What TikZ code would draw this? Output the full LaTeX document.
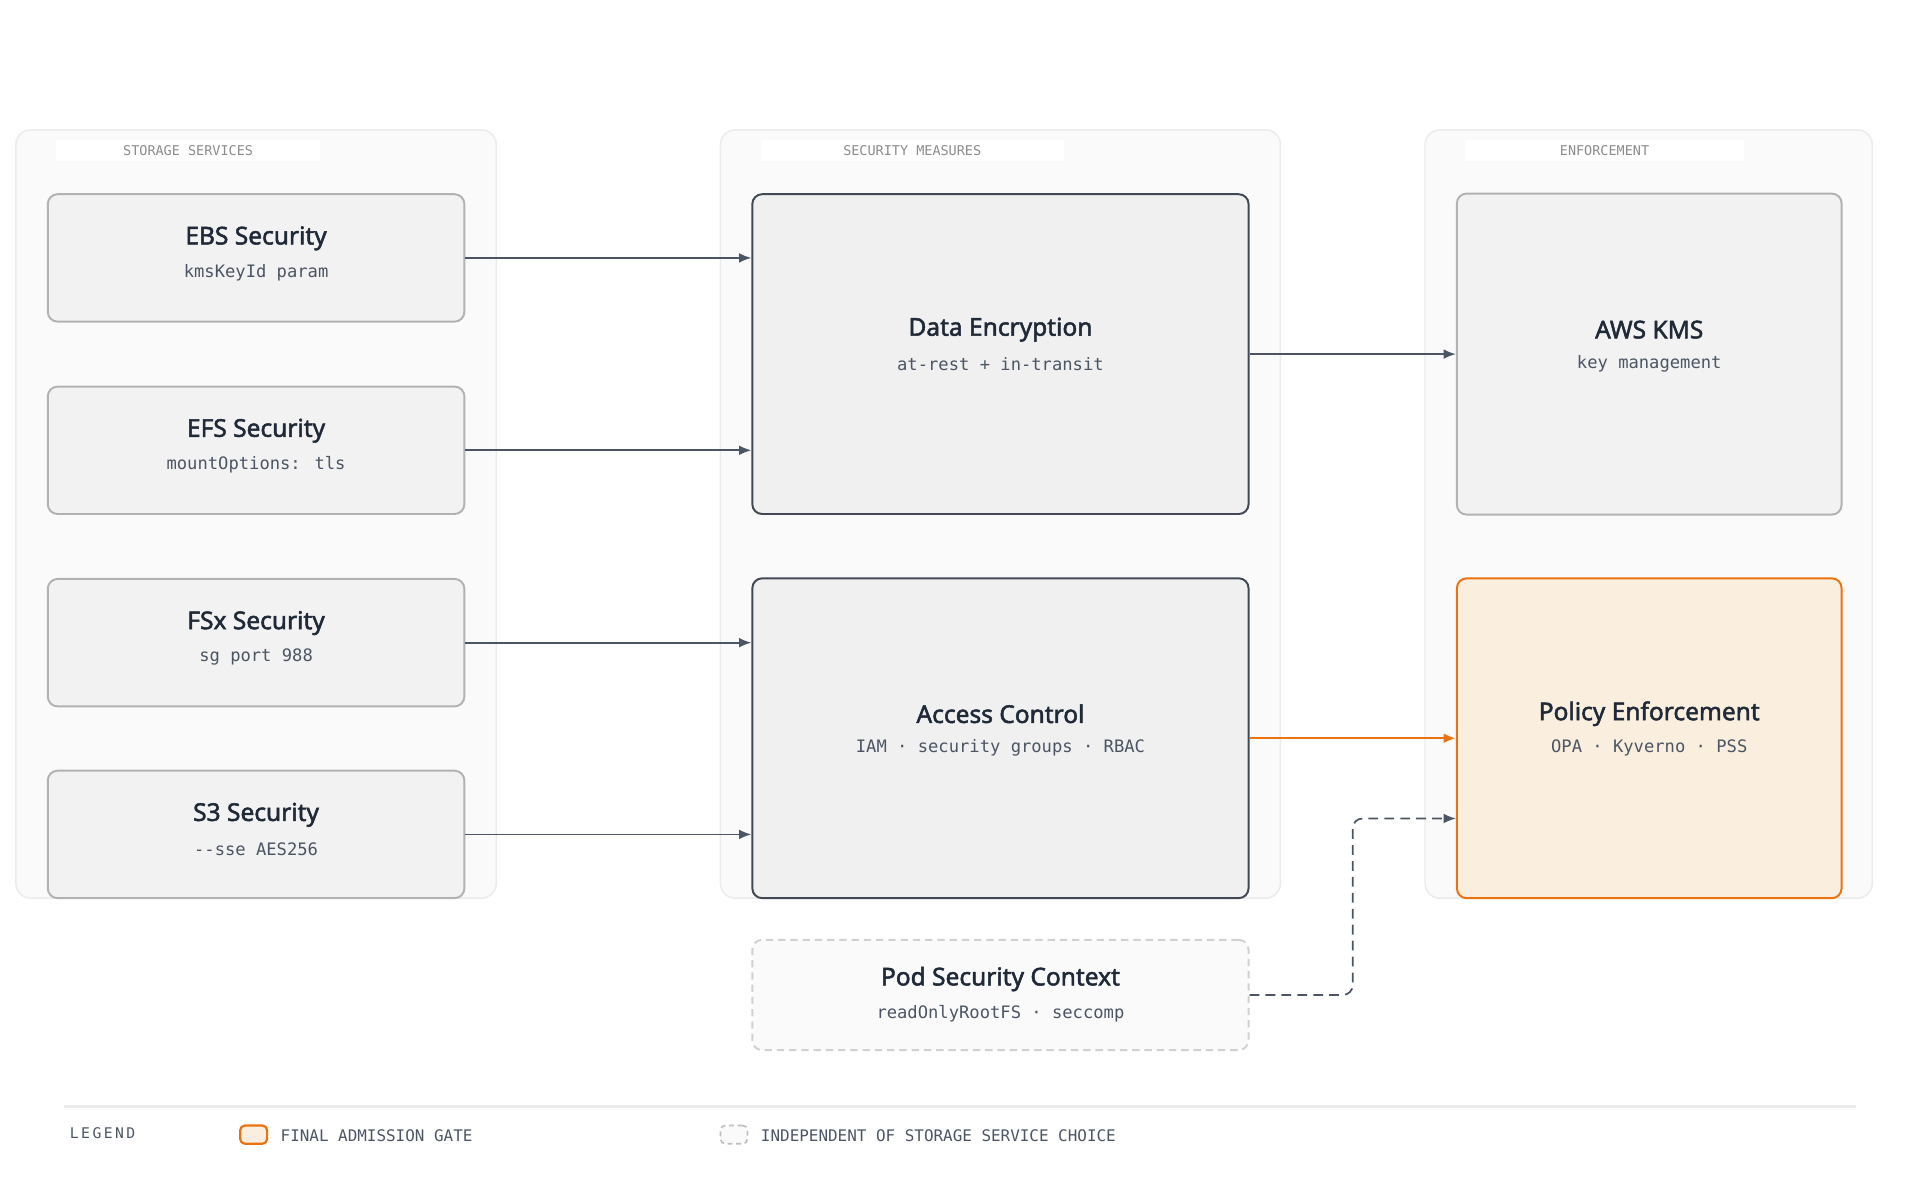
\documentclass[tikz,border=0pt]{standalone}
\usepackage{fontspec}
\setmainfont{Noto Sans}
\newfontfamily\titlefont{Noto Sans}[FakeBold=2]
\newfontfamily\monofont{DejaVu Sans Mono}
\usetikzlibrary{arrows.meta, positioning, calc}

\definecolor{ink}{HTML}{1F2937}
\definecolor{subink}{HTML}{4B5563}
\definecolor{edge}{HTML}{4B5563}
\definecolor{orangeline}{HTML}{EA730F}
\definecolor{orangefill}{HTML}{FAEFDF}

\begin{document}
\begin{tikzpicture}[
    x=0.5pt, y=-0.5pt,
    panel/.style={draw=black!8, fill=black!2, rounded corners=6pt, line width=0.6pt},
    tag/.style={fill=white, minimum width=#1*0.5pt, minimum height=8.5pt, inner sep=0pt, font=\monofont\fontsize{5.5}{6}\selectfont, text=black!45},
    svc/.style={draw=black!30, fill=black!5, rounded corners=4pt, line width=0.8pt, minimum width=170pt, minimum height=52pt},
    measure/.style={draw=ink!85, fill=black!6, rounded corners=4pt, line width=0.8pt, minimum width=202.5pt, minimum height=130.5pt},
    title/.style={font=\titlefont\fontsize{10}{12}\selectfont, text=ink},
    sub/.style={font=\monofont\fontsize{7}{8}\selectfont, text=subink},
    arrow/.style={-{Latex[length=5pt,width=4pt]}, line width=0.7pt, draw=edge}
]
\useasboundingbox (0,0) rectangle (1567,981);

% Panels
\draw[panel] (13,106) rectangle (405,733);
\draw[panel] (588,106) rectangle (1045,733);
\draw[panel] (1163,106) rectangle (1528,733);
\node[tag=215] (tagstore) at (153.5,122.5) {STORAGE SERVICES};
\node[tag=247] (tagsec) at (744.5,122.5) {SECURITY MEASURES};
\node[tag=227] (tagenf) at (1309.5,122.5) {ENFORCEMENT};

% Storage services
\node[svc] (ebs) at (209,210.5) {};
\node[svc] (efs) at (209,367.5) {};
\node[svc] (fsx) at (209,524.5) {};
\node[svc] (s3) at (209,681) {};
\node[title] at ($(ebs)+(0,-16)$) {EBS Security};
\node[sub] at ($(ebs)+(0,12)$) {kmsKeyId param};
\node[title] at ($(efs)+(0,-16)$) {EFS Security};
\node[sub] at ($(efs)+(0,12)$) {mountOptions: tls};
\node[title] at ($(fsx)+(0,-16)$) {FSx Security};
\node[sub] at ($(fsx)+(0,12)$) {sg port 988};
\node[title] at ($(s3)+(0,-16)$) {S3 Security};
\node[sub] at ($(s3)+(0,12)$) {-{}-sse AES256};

% Security measures
\node[measure] (enc) at (816.5,289) {};
\node[measure] (acc) at (816.5,602.5) {};
\node[title] at ($(enc)+(0,-20)$) {Data Encryption};
\node[sub] at ($(enc)+(0,8)$) {at-rest + in-transit};
\node[title] at ($(acc)+(0,-20)$) {Access Control};
\node[sub] at ($(acc)+(0,8)$) {IAM · security groups · RBAC};

% Pod security context
\node[draw=black!18, dashed, dash pattern=on 3pt off 2pt, fill=black!2, rounded corners=4pt, line width=0.8pt, minimum width=202.5pt, minimum height=45pt] (pod) at (816.5,812) {};
\node[title] at ($(pod)+(0,-13)$) {Pod Security Context};
\node[sub] at ($(pod)+(0,15)$) {readOnlyRootFS · seccomp};

% Enforcement
\node[draw=black!30, fill=black!5, rounded corners=4pt, line width=0.8pt, minimum width=157pt, minimum height=131pt] (kms) at (1346,289) {};
\node[draw=orangeline, fill=orangefill, rounded corners=4pt, line width=0.8pt, minimum width=157pt, minimum height=130.5pt] (policy) at (1346,602.5) {};
\node[title] at ($(kms)+(0,-20)$) {AWS KMS};
\node[sub] at ($(kms)+(0,8)$) {key management};
\node[title] at ($(policy)+(0,-20)$) {Policy Enforcement};
\node[sub] at ($(policy)+(0,8)$) {OPA · Kyverno · PSS};

% Arrows
\draw[arrow] (ebs.east) -- (ebs.east -| enc.west);
\draw[arrow] (efs.east) -- (efs.east -| enc.west);
\draw[arrow] (fsx.east) -- (fsx.east -| acc.west);
\draw[arrow] (s3.east) -- (s3.east -| acc.west);
\draw[arrow] (enc.east) -- (kms.west);
\draw[arrow, draw=orangeline, line width=1pt] (acc.east) -- (policy.west);
\coordinate (bend) at (1104,668);
\draw[arrow, dashed, dash pattern=on 4pt off 2.5pt, rounded corners=4pt] (pod.east) -| (bend) -- (bend -| policy.west);

% Legend
\draw[black!8, line width=1pt] (52,903) -- (1515,903);
\node[anchor=west, font=\monofont\fontsize{6}{7}\selectfont, text=subink] (legend) at (50,925) {L\,E\,G\,E\,N\,D};
\node[draw=orangeline, fill=orangefill, rounded corners=2pt, line width=0.9pt, minimum width=11pt, minimum height=7.5pt, inner sep=0pt] (keygate) at (207,926) {};
\node[anchor=west, font=\monofont\fontsize{6.5}{7}\selectfont, text=subink] at (222,927) {FINAL ADMISSION GATE};
\node[draw=black!25, dashed, dash pattern=on 2pt off 1.5pt, fill=black!2, rounded corners=2pt, line width=0.7pt, minimum width=11pt, minimum height=7.5pt, inner sep=0pt] (keyind) at (599,926) {};
\node[anchor=west, font=\monofont\fontsize{6.5}{7}\selectfont, text=subink] at (614,927) {INDEPENDENT OF STORAGE SERVICE CHOICE};
\end{tikzpicture}
\end{document}
